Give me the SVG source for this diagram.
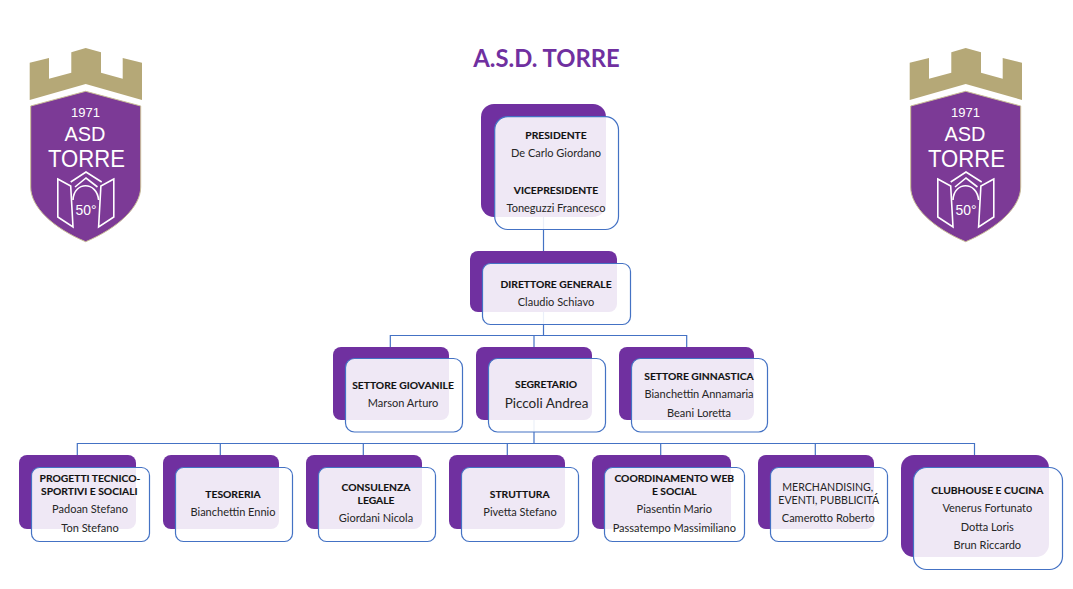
<svg xmlns="http://www.w3.org/2000/svg" width="1073" height="589" viewBox="0 0 1073 589">
<style>
text{font-family:"Lato","Carlito","Liberation Sans",sans-serif;font-size:11px;fill:#262626;text-anchor:middle}
.b{font-size:10.3px;font-weight:700;fill:#111;stroke:#111;stroke-width:.12}
.t{font-size:23.8px;font-weight:700;fill:#7030A0}
.big{font-size:13.5px}
.u{font-size:10.6px}
.p{fill:#7030A0}
.w{fill:#fff;fill-opacity:.89;stroke:#4472C4;stroke-width:1.2}
.c{fill:none;stroke:#4472C4;stroke-width:1.2}
.l{font-family:"Liberation Sans",Arial,sans-serif;fill:#fff}
.d{fill:none;stroke:#fff;stroke-width:1.6}
</style>
<defs>
<g id="logo">
<polygon fill="#B5A877" points="29.700,62.700 49,58 49,78.700 71.300,72.700 71.300,52.300 85.700,48 101,52.300 101,72.700 122.700,78.700 122.700,58 142,62.700 142,100 85.700,84 29.700,100"/>
<path fill="#7C3A96" stroke="#C9BE97" stroke-width="1" d="M30.700,106 L85.700,91.300 L140.700,106 L140.700,187 C140.700,207 118,228 85.700,241.700 C53,228 30.700,207 30.700,187 Z"/>
<path class="d" d="M57.800,179 L70.700,186 L73,227 L57.800,217 Z"/>
<path class="d" d="M113.800,179 L100.900,186 L98.600,227 L113.800,217 Z"/>
<path class="d" d="M70.700,182 L86,172 L101.700,182 M75,187 L86,178 L97.500,187 M73,200 C74,181 97,181 98.600,200"/>
</g>
</defs>
<text class="t" x="546.500" y="67">A.S.D. TORRE</text>
<g id="logo-left">
<use href="#logo"/>
<text class="l" x="85.500" y="117.300" style="font-size:13.500px" textLength="29" lengthAdjust="spacingAndGlyphs">1971</text>
<text class="l" x="85" y="141" style="font-size:20.500px" textLength="41" lengthAdjust="spacingAndGlyphs">ASD</text>
<text class="l" x="86.500" y="166.500" style="font-size:24px" textLength="77" lengthAdjust="spacingAndGlyphs">TORRE</text>
<text class="l" x="86" y="215" style="font-size:14px" textLength="21" lengthAdjust="spacingAndGlyphs">50°</text>
</g>
<g id="logo-right" transform="translate(880,0)">
<use href="#logo"/>
<text class="l" x="85.500" y="117.300" style="font-size:13.500px" textLength="29" lengthAdjust="spacingAndGlyphs">1971</text>
<text class="l" x="85" y="141" style="font-size:20.500px" textLength="41" lengthAdjust="spacingAndGlyphs">ASD</text>
<text class="l" x="86.500" y="166.500" style="font-size:24px" textLength="77" lengthAdjust="spacingAndGlyphs">TORRE</text>
<text class="l" x="86" y="215" style="font-size:14px" textLength="21" lengthAdjust="spacingAndGlyphs">50°</text>
</g>
<g id="connectors">
<path class="c" d="M543.500,217V251"/>
<path class="c" d="M543.500,312V335.500"/>
<path class="c" d="M390.300,347V335.500H686.700V347M534,335.500V347"/>
<path class="c" d="M534,420V443.500"/>
<path class="c" d="M77.300,455V443.500H974.500V455M220.300,443.500V455M363.300,443.500V455M507.300,443.500V455M660.700,443.500V455M815.300,443.500V455"/>
</g>
<g id="presidente">
<rect class="p" x="481" y="104" width="125" height="113" rx="13"/>
<rect class="w" x="494.700" y="116.700" width="123.800" height="112.800" rx="13"/>
<text class="b" x="556" y="139">PRESIDENTE</text>
<text x="556" y="157">De Carlo Giordano</text>
<text class="b" x="556" y="194">VICEPRESIDENTE</text>
<text x="556" y="212">Toneguzzi Francesco</text>
</g>
<g id="direttore">
<rect class="p" x="470" y="251" width="147" height="61" rx="8"/>
<rect class="w" x="482.500" y="263.500" width="148" height="61" rx="8"/>
<text class="b" x="556" y="288">DIRETTORE GENERALE</text>
<text x="556" y="306">Claudio Schiavo</text>
</g>
<g id="giovanile">
<rect class="p" x="333" y="347" width="116" height="73" rx="8"/>
<rect class="w" x="345.500" y="358.500" width="117" height="73.500" rx="9"/>
<text class="b" x="403" y="388.700">SETTORE GIOVANILE</text>
<text x="403" y="406.700">Marson Arturo</text>
</g>
<g id="segretario">
<rect class="p" x="476" y="347" width="116" height="73" rx="8"/>
<rect class="w" x="488.500" y="358.500" width="117" height="73.500" rx="9"/>
<text class="b" x="546" y="388">SEGRETARIO</text>
<text class="big" x="546.500" y="408">Piccoli Andrea</text>
</g>
<g id="ginnastica">
<rect class="p" x="619" y="347" width="135" height="73" rx="8"/>
<rect class="w" x="631.500" y="358.500" width="136" height="73.500" rx="9"/>
<text class="b" x="699" y="379.700">SETTORE GINNASTICA</text>
<text x="699" y="397.500">Bianchettin Annamaria</text>
<text x="699" y="416.700">Beani Loretta</text>
</g>
<g id="progetti">
<rect class="p" x="19" y="455" width="117" height="74" rx="8"/>
<rect class="w" x="31.500" y="467.500" width="118" height="74" rx="8"/>
<text class="b" x="90" y="482">PROGETTI TECNICO-</text>
<text class="b" x="89.300" y="494.700">SPORTIVI E SOCIALI</text>
<text x="90" y="512.700">Padoan Stefano</text>
<text x="90" y="531.700">Ton Stefano</text>
</g>
<g id="tesoreria">
<rect class="p" x="163" y="455" width="116" height="74" rx="8"/>
<rect class="w" x="175.500" y="467.500" width="117" height="74" rx="8"/>
<text class="b" x="233" y="498">TESORERIA</text>
<text x="233" y="516">Bianchettin Ennio</text>
</g>
<g id="consulenza">
<rect class="p" x="306" y="455" width="116" height="74" rx="8"/>
<rect class="w" x="318.500" y="467.500" width="117" height="74" rx="8"/>
<text class="b" x="376" y="491">CONSULENZA</text>
<text class="b" x="376" y="503.700">LEGALE</text>
<text x="376" y="522">Giordani Nicola</text>
</g>
<g id="struttura">
<rect class="p" x="449" y="455" width="116" height="74" rx="8"/>
<rect class="w" x="461.500" y="467.500" width="117" height="74" rx="8"/>
<text class="b" x="519.700" y="498">STRUTTURA</text>
<text x="520" y="516">Pivetta Stefano</text>
</g>
<g id="coordinamento">
<rect class="p" x="592" y="455" width="139" height="74" rx="8"/>
<rect class="w" x="604.500" y="467.500" width="140" height="74" rx="8"/>
<text class="b" x="674.300" y="481.700">COORDINAMENTO WEB</text>
<text class="b" x="674.300" y="494.700">E SOCIAL</text>
<text x="674.300" y="512.700">Piasentin Mario</text>
<text x="674.300" y="531.700">Passatempo Massimiliano</text>
</g>
<g id="merchandising">
<rect class="p" x="758" y="455" width="116" height="74" rx="8"/>
<rect class="w" x="770.500" y="467.500" width="117" height="74" rx="8"/>
<text class="u" x="827.700" y="491">MERCHANDISING,</text>
<text class="u" x="828.700" y="503.700">EVENTI, PUBBLICITÁ</text>
<text x="828.300" y="522">Camerotto Roberto</text>
</g>
<g id="clubhouse">
<rect class="p" x="901" y="455" width="148" height="102" rx="13"/>
<rect class="w" x="913.500" y="467.500" width="149" height="102" rx="13"/>
<text class="b" x="987.300" y="493.700">CLUBHOUSE E CUCINA</text>
<text x="987.300" y="511.700">Venerus Fortunato</text>
<text x="987.300" y="530.700">Dotta Loris</text>
<text x="987.300" y="548.700">Brun Riccardo</text>
</g>
</svg>
